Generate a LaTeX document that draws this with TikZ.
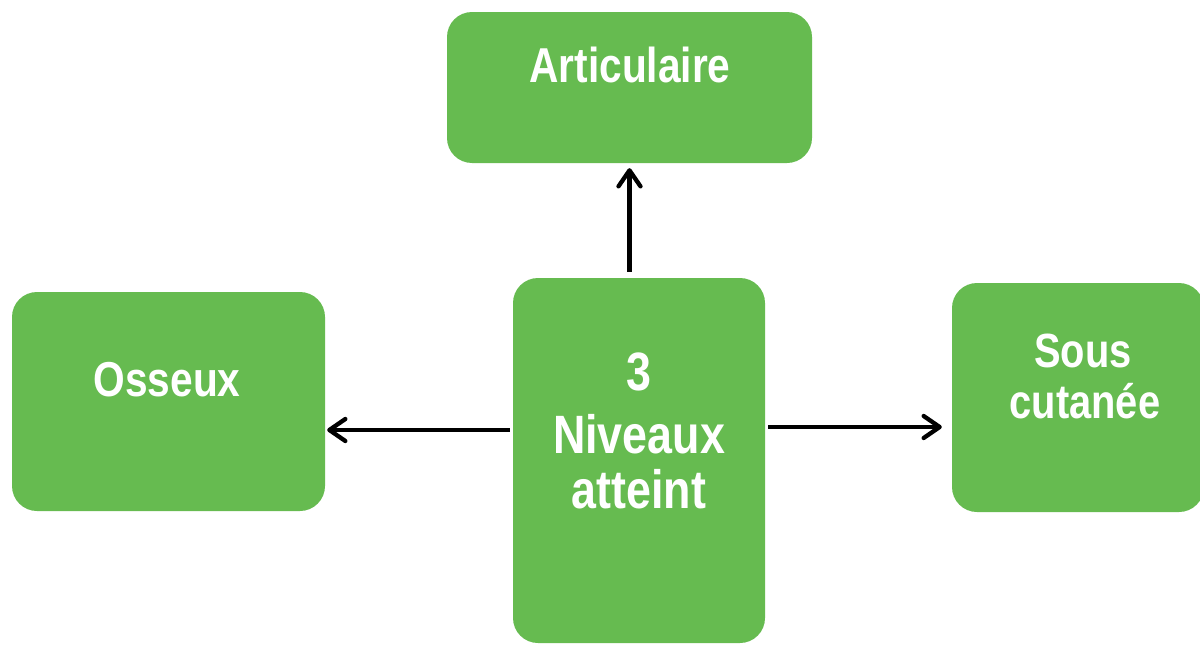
\documentclass[tikz,border=0pt]{standalone}
\usepackage{fontspec}
\newfontfamily\boxfont{Liberation Sans}[FakeStretch=0.83]
\usetikzlibrary{arrows.meta,positioning,calc}
\definecolor{leafgreen}{RGB}{102,187,80}
\tikzset{
  greenbox/.style={fill=leafgreen, rounded corners=25pt, inner sep=0pt},
  boxtext/.style={text=white, font=\boxfont\bfseries, anchor=base, inner sep=0pt, align=center},
  arr/.style={line width=4.3pt, -{Straight Barb[length=16pt,width=22pt,line cap=round,line join=round]}}
}

\begin{document}
\begin{tikzpicture}[x=1pt,y=-1pt]
\useasboundingbox (0,0) rectangle (1200,645);
% boxes
\node[greenbox, minimum width=365pt, minimum height=151pt] (art) at (629.5,87.5) {};
\node[greenbox, minimum width=313pt, minimum height=219pt] (oss) at (168.5,401.5) {};
\node[greenbox, minimum width=252pt, minimum height=365pt] (ctr) at (639,460.5) {};
\node[greenbox, minimum width=252pt, minimum height=229pt] (sous) at (1078,397.5) {};
% labels
\node[boxtext, font=\boxfont\bfseries\fontsize{49}{59}\selectfont] (artlbl) at (630,82) {Articulaire};
\node[boxtext, font=\boxfont\bfseries\fontsize{49}{60}\selectfont] (osslbl) at (167,396) {Osseux};
\node[boxtext, font=\boxfont\bfseries\fontsize{54}{59}\selectfont] (ctrlbl1) at (639,390) {3};
\node[boxtext, font=\boxfont\bfseries\fontsize{54}{59}\selectfont] (ctrlbl2) at (639,453) {Niveaux};
\node[boxtext, font=\boxfont\bfseries\fontsize{54}{59}\selectfont] (ctrlbl3) at (639,508) {atteint};
\node[boxtext, font=\boxfont\bfseries\fontsize{48}{52}\selectfont] (souslbl1) at (1083,367) {Sous};
\node[boxtext, font=\boxfont\bfseries\fontsize{48}{52}\selectfont] (souslbl2) at (1085,418) {cutanée};
% arrows
\draw[arr, shorten <=6pt, shorten >=5pt] (ctr.north -| art.south) -- (art.south);
\draw[arr, shorten <=3pt, shorten >=2pt] ([yshift=30.5pt]ctr.west) -- ([yshift=30.5pt]ctr.west -| oss.east);
\draw[arr, shorten <=3pt, shorten >=10pt] ([yshift=33.5pt]ctr.east) -- ([yshift=33.5pt]ctr.east -| sous.west);
\end{tikzpicture}
\end{document}
